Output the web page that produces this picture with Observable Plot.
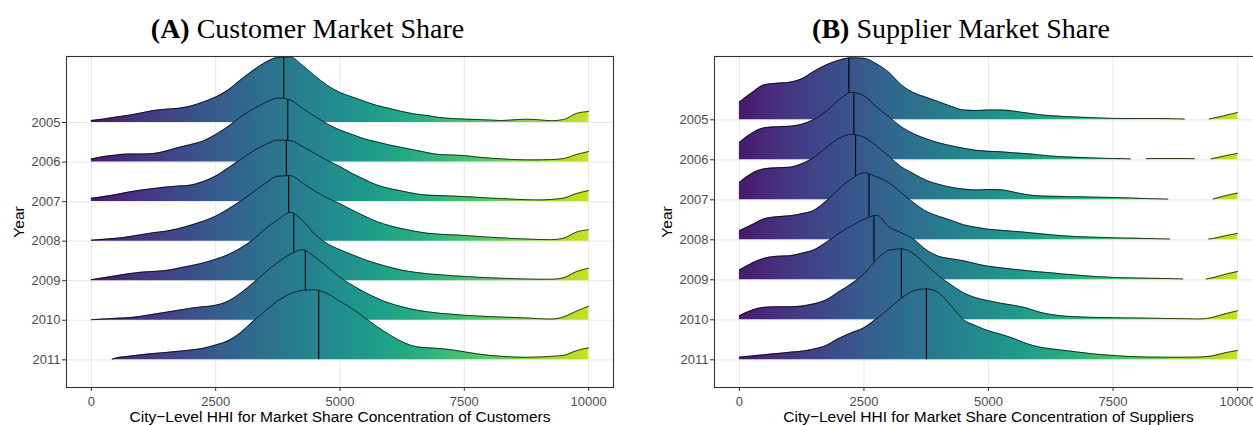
<!DOCTYPE html>
<html>
<head>
<meta charset="utf-8">
<script src="https://cdn.jsdelivr.net/npm/d3@7"></script>
<script src="https://cdn.jsdelivr.net/npm/@observablehq/plot@0.6"></script>
<style>
  html, body { margin: 0; padding: 0; background: #fff; overflow: hidden; }
  #wrap { position: relative; width: 1253px; height: 425px; overflow: hidden; }
  .title {
    position: absolute; top: 15px; height: 28px; line-height: 28px;
    font-family: "Liberation Serif", "Times New Roman", serif; font-size: 28px;
    text-align: center; color: #000; white-space: nowrap;
  }
  .chart { position: absolute; top: 44px; width: 631px; height: 381px; }
  .chart svg { max-width: none !important; display: block; }
</style>
</head>
<body>
<div id="wrap">
  <div class="title" style="left:0;width:615px"><b>(A)</b> Customer Market Share</div>
  <div class="chart" id="chartA" style="left:0"></div>
  <div class="title" style="left:648px;width:626px"><b>(B)</b> Supplier Market Share</div>
  <div class="chart" id="chartB" style="left:648px"></div>
</div>
<script>
// City-level HHI grid (0 = fully fragmented, 10000 = monopoly)
const hhiGrid = [0, 250, 500, 750, 1000, 1250, 1500, 1750, 2000, 2250, 2500, 2750, 3000, 3250, 3500, 3750, 4000,
  4250, 4500, 4750, 5000, 5250, 5500, 5750, 6000, 6250, 6500, 6750, 7000, 7250, 7500, 7750, 8000, 8250, 8500,
  8750, 9000, 9250, 9500, 9750, 10000];
const years = [2005, 2006, 2007, 2008, 2009, 2010, 2011];
const hhiTicks = [0, 2500, 5000, 7500, 10000];

// Scaled kernel densities of customer-market HHI, one ridge per year (null = trimmed tail)
const customer2005 = [2, 3.5, 5.5, 7.3, 9.5, 12, 13.3, 14.2, 16.5, 20.5, 25.5, 32.5, 42.5, 52, 60, 65, 65.5, 57, 46.5, 37, 30, 25.5, 21, 17, 14, 11, 8.5, 7, 5, 4, 3.4, 3, 2.5, 2, 2.7, 3.3, 2.7, 1.8, 3, 9, 11];
const customer2006 = [3, 5.5, 7, 8, 8, 8.5, 11, 14.5, 17.5, 21, 27.5, 35.5, 45, 53, 59.5, 64, 62, 53.5, 45.5, 38, 32, 27.5, 23, 20, 17, 14.5, 12, 9.5, 7.5, 7, 6.5, 5, 4, 3.2, 2.5, 2.2, 2.2, 2.5, 3.5, 7.5, 10.5];
const customer2007 = [3.3, 5, 7, 9.5, 11.5, 13, 14.5, 15.5, 16.5, 20, 25.5, 33.5, 42, 50.5, 57, 61.5, 61, 55, 48, 41, 35, 28, 22, 16.5, 13, 10.5, 8, 6.5, 6, 5.5, 5, 4.3, 3.6, 3, 2.4, 1.9, 1.7, 2.2, 3.5, 8, 11];
const customer2008 = [1, 1.8, 2.8, 4.5, 6.5, 8.5, 10, 12.5, 16, 20, 25, 32, 40, 49, 58, 65, 65.5, 58, 50, 43, 37.5, 31, 25, 19.5, 15.5, 12.5, 10, 8, 7, 6.3, 5.7, 4.8, 4, 3.3, 2.6, 2.1, 1.7, 1.5, 3, 9, 11.5];
const customer2009 = [1, 3, 5, 7, 8.5, 9.3, 10.2, 12.5, 15, 17.8, 21.5, 26, 32.5, 41, 52, 61, 68.3, 60, 46, 37, 31, 26, 21, 17, 13.5, 10.5, 8.5, 7, 6, 5, 4.3, 3.5, 3, 2.5, 2, 1.7, 1.5, 1.5, 3, 9, 12.5];
const customer2010 = [0.5, 1.2, 2, 2.5, 4, 6, 8, 10, 12, 13.5, 15, 19, 27, 37, 48, 58, 66, 70.5, 63, 53, 43, 35, 28, 22, 17, 13.5, 10.5, 8.5, 7, 6, 5, 4.3, 3.7, 3.2, 2.8, 2.3, 1.6, 1.2, 3.5, 9, 14];
const customer2011 = [null, null, 1.8, 3.5, 5, 6.3, 7.3, 8.5, 9.8, 11.5, 14.8, 19, 27, 38.5, 49, 59, 66, 69.5, 70, 66, 58.5, 51, 42, 33, 25, 18, 13.5, 12, 11.3, 10, 8, 6, 4.5, 3.5, 2.8, 2.5, 2.8, 3.5, 4.5, 9, 12];
const customerMedians = [3868, 3949, 3922, 3969, 4069, 4303, 4572];
// [year, HHI, density] end points where a trimmed tail starts or stops
const customerBreaks = [[2011, 420, 0.6]];

// Scaled kernel densities of supplier-market HHI
const supplier2005 = [17.6, 27, 35, 36.5, 37.5, 41, 48.5, 55, 59.5, 62, 61.5, 56, 47.5, 35, 27, 22.5, 18, 13.5, 9.8, 9.3, 9.8, 9.8, 8.7, 7, 5.3, 4, 3.4, 2.8, 2.3, 1.8, 1.4, 1.3, 1.3, 1.3, 1.2, 1, null, null, 1.5, 4.3, 7.3];
const supplier2006 = [17.3, 26.5, 32, 33, 33.5, 35.5, 40.5, 49, 60, 67.5, 64, 53, 43, 33, 26, 21, 17, 14, 11.5, 9.5, 8.5, 8, 7, 6.2, 5, 3.8, 3, 2.5, 2, 1.6, 1.3, 1.1, null, 1.3, 1.3, 1.3, 1.2, null, 1.2, 4, 6.3];
const supplier2007 = [17.3, 26.3, 31, 32, 32.5, 36, 42.5, 52.5, 61.5, 65.5, 62.5, 54, 43.5, 33, 26, 19.5, 15.5, 12.5, 10.7, 9.8, 10.3, 10, 7.8, 5.3, 4, 3.5, 3.3, 3, 2.8, 2.5, 2.3, 2, 1.5, 1.1, 0.8, null, null, null, null, 4, 6.7];
const supplier2008 = [9, 15, 21, 23, 24, 26, 29.5, 39, 51, 61, 67, 63, 57, 47, 37, 28.5, 23.5, 19.5, 15, 12.5, 10.5, 9.5, 8.5, 7.5, 6.2, 5, 4, 3.3, 2.8, 2.4, 2, 1.7, 1.5, 1.2, 0.9, null, null, null, 1.3, 4, 6.3];
const supplier2009 = [9.7, 16.5, 21.5, 23.5, 24, 26.5, 30, 37.5, 46.5, 54, 60.5, 64.5, 53, 47, 40.5, 30, 23.5, 21, 19, 16, 13.5, 12, 10.5, 9.3, 8, 7, 5.8, 4.8, 3.8, 3, 2.4, 2, 1.7, 1.5, 1.3, 1.1, null, null, 2, 5.5, 8.3];
const supplier2010 = [4, 9.5, 12.5, 13, 13, 13.7, 16, 20, 28, 36, 46, 60, 69.5, 71, 66, 55, 44, 35, 27, 22, 19, 16.5, 14.5, 12, 8, 5.3, 3.8, 3, 2.6, 2.3, 2.1, 1.9, 1.8, 1.6, 1.4, 1.2, 1, 0.8, 2.5, 6, 9];
const supplier2011 = [2.6, 3.8, 5, 6.2, 7.5, 8.6, 10.8, 14.5, 21.5, 27, 32, 41, 51, 61.5, 69, 71, 67, 54, 40, 34, 29, 25.5, 21.5, 16.5, 13, 11, 9.5, 8, 6.5, 5.2, 4.4, 3.5, 3, 2.7, 2.6, 2.6, 2.6, 2.8, 4, 7, 9.3];
const supplierMedians = [2197, 2298, 2332, 2600, 2700, 3251, 3754];
const supplierBreaks = [
  [2005, 8930, 0.7], [2005, 9430, 0.8],
  [2006, 7850, 0.9], [2006, 8170, 1.1], [2006, 9140, 1], [2006, 9470, 0.9],
  [2007, 8600, 0.7], [2007, 9510, 0.8],
  [2008, 8640, 0.7], [2008, 9420, 0.8],
  [2009, 8900, 0.8], [2009, 9370, 0.8]
];

const customerSeries = [customer2005, customer2006, customer2007, customer2008, customer2009, customer2010, customer2011];
const supplierSeries = [supplier2005, supplier2006, supplier2007, supplier2008, supplier2009, supplier2010, supplier2011];

// Ridge points for one year, row = vertical slot (2011 at the bottom)
function ridgePoints(year, values, breaks, row, perRow) {
  const pts = hhiGrid.map((x, i) => ({x, h: values[i]}));
  for (const [y, x, h] of breaks) if (y === year) pts.push({x, h});
  pts.sort((a, b) => a.x - b.x);
  return pts.map(p => ({x: p.x, base: row, top: p.h == null ? NaN : row + p.h / perRow}));
}

// Density height at the median
function heightAt(pts, x) {
  for (let i = 1; i < pts.length; i++) {
    const a = pts[i - 1], b = pts[i];
    if (x >= a.x && x <= b.x) return a.top + (b.top - a.top) * (x - a.x) / (b.x - a.x);
  }
  return NaN;
}

// Viridis gradient running along the HHI axis
function viridisDefs(id) {
  return function (...args) {
    const scales = args.find(a => a && typeof a.x === "function");
    const ns = "http://www.w3.org/2000/svg";
    const defs = document.createElementNS(ns, "defs");
    const grad = document.createElementNS(ns, "linearGradient");
    grad.setAttribute("id", id);
    grad.setAttribute("gradientUnits", "userSpaceOnUse");
    grad.setAttribute("x1", scales.x(hhiTicks[0]));
    grad.setAttribute("x2", scales.x(hhiTicks[hhiTicks.length - 1]));
    grad.setAttribute("y1", 0);
    grad.setAttribute("y2", 0);
    const n = 24;
    for (let k = 0; k <= n; k++) {
      const stop = document.createElementNS(ns, "stop");
      stop.setAttribute("offset", k / n);
      stop.setAttribute("stop-color", d3.interpolateViridis(0.07 + 0.85 * k / n));
      grad.appendChild(stop);
    }
    defs.appendChild(grad);
    return defs;
  };
}

function ridgePanel({id, series, medians, breaks, perRow, yDomain, xLabel}) {
  const rows = years.map((_, k) => years.length - 1 - k);
  const marks = [
    viridisDefs(id),
    Plot.gridX(hhiTicks, {stroke: "#ebebeb", strokeOpacity: 1, strokeWidth: 1.2}),
    Plot.gridY(rows, {stroke: "#ebebeb", strokeOpacity: 1, strokeWidth: 1.2})
  ];
  years.forEach((year, k) => {
    const row = rows[k];
    const pts = ridgePoints(year, series[k], breaks, row, perRow);
    marks.push(
      Plot.areaY(pts, {x: "x", y1: "base", y2: "top", fill: `url(#${id})`, curve: "monotone-x"}),
      Plot.lineY(pts, {x: "x", y: "top", stroke: "#000", strokeWidth: 0.7, curve: "monotone-x"}),
      Plot.ruleX([medians[k]], {x: d => d, y1: row, y2: heightAt(pts, medians[k]), stroke: "#000", strokeWidth: 1.1})
    );
  });
  marks.push(
    Plot.frame({stroke: "#333", strokeWidth: 1.1}),
    Plot.axisX(hhiTicks, {tickSize: 4, tickPadding: 5, tickFormat: d => String(d), color: "#4d4d4d", stroke: "#333", fontSize: 13, label: null}),
    Plot.axisY(rows, {tickSize: 4, tickPadding: 2, tickFormat: r => String(years[years.length - 1 - r]), color: "#4d4d4d", stroke: "#333", fontSize: 13, label: null}),
    Plot.text([xLabel], {text: d => d, frameAnchor: "bottom", lineAnchor: "middle", textAnchor: "middle", dy: 30, fontSize: 15.5, fill: "#000"}),
    Plot.text(["Year"], {text: d => d, frameAnchor: "left", lineAnchor: "middle", textAnchor: "middle", dx: -47.5, rotate: -90, fontSize: 15.5, fill: "#000"})
  );
  return Plot.plot({
    width: id === "gradA" ? 630 : 631,
    height: 381,
    marginTop: 12,
    marginBottom: 38,
    marginLeft: 66,
    marginRight: 17,
    style: {fontFamily: "'Liberation Sans', Arial, Helvetica, sans-serif", fontSize: "13px", background: "#fff", maxWidth: "none"},
    x: {domain: [-500, 10500]},
    y: {domain: yDomain},
    marks
  });
}

document.getElementById("chartA").appendChild(ridgePanel({
  id: "gradA", series: customerSeries, medians: customerMedians, breaks: customerBreaks,
  perRow: 39.55, yDomain: [-0.70, 7.669],
  xLabel: "City\u2212Level HHI for Market Share Concentration of Customers"
}));
document.getElementById("chartB").appendChild(ridgePanel({
  id: "gradB", series: supplierSeries, medians: supplierMedians, breaks: supplierBreaks,
  perRow: 40, yDomain: [-0.6925, 7.5825],
  xLabel: "City\u2212Level HHI for Market Share Concentration of Suppliers"
}));
</script>
</body>
</html>
